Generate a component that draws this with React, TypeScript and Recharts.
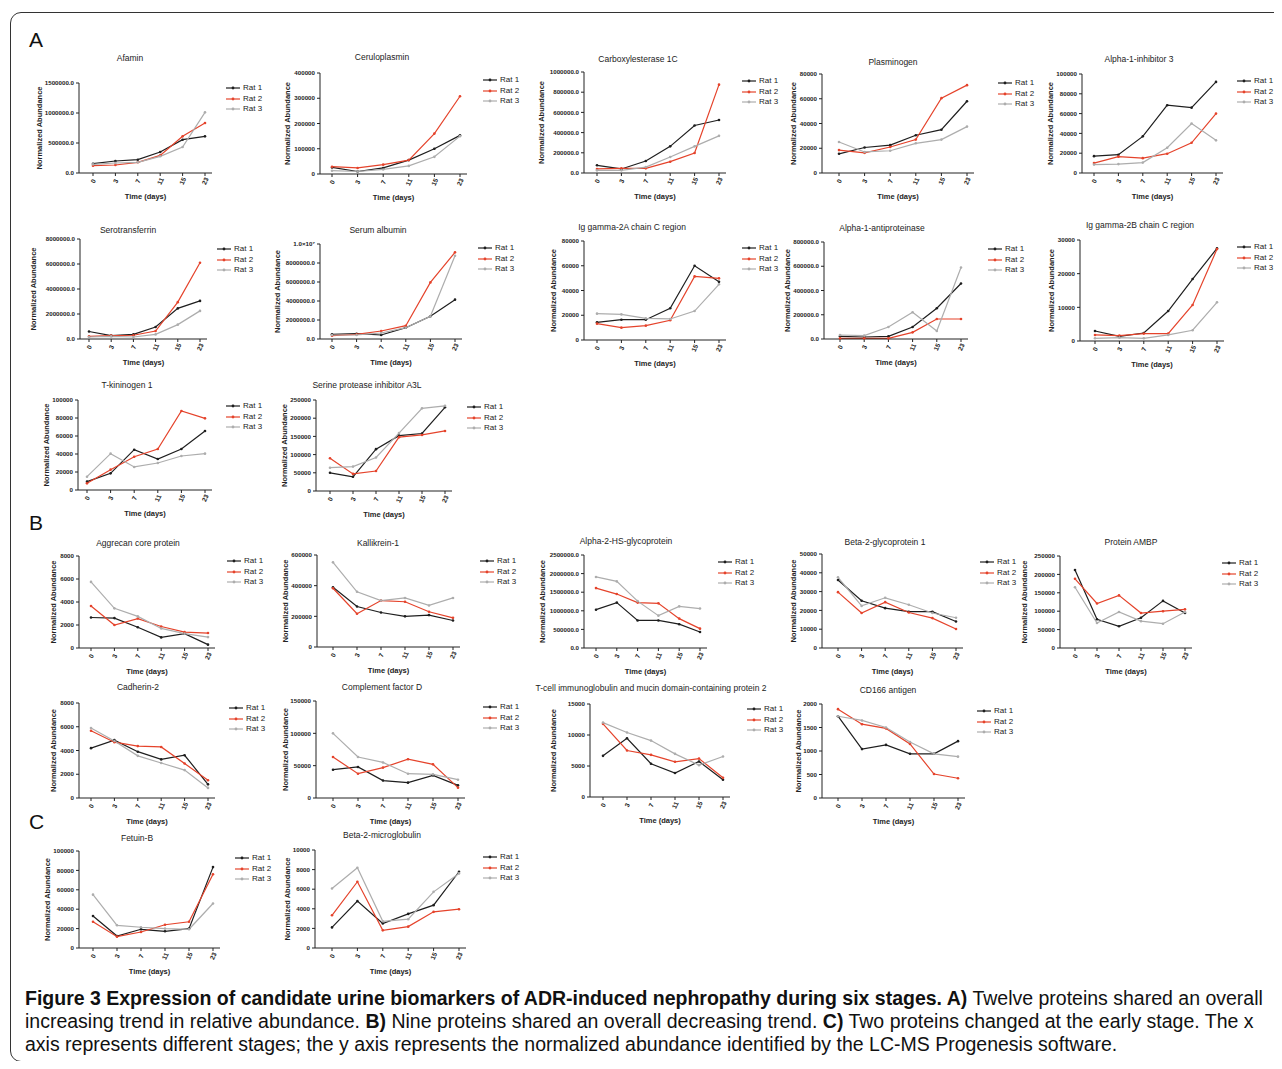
import React from "react";
import { LineChart, Line, XAxis, YAxis, Legend } from "recharts";

const days = ["0", "3", "7", "11", "15", "23"];

// A) increasing
const afamin1 = [155000, 200000, 222000, 350000, 555000, 611000];
const afamin2 = [122000, 133000, 178000, 294000, 611000, 833000];
const afamin3 = [144000, 167000, 178000, 278000, 433000, 1011000];
const afaminTicks = [0, 500000, 1000000, 1500000];

const cerulo1 = [26000, 10000, 24000, 55000, 100000, 153000];
const cerulo2 = [29000, 24000, 37000, 55000, 160000, 308000];
const cerulo3 = [13000, 10000, 18000, 32000, 68000, 150000];
const ceruloTicks = [0, 100000, 200000, 300000, 400000];

const carbox1 = [76000, 40000, 119000, 264000, 470000, 525000];
const carbox2 = [40000, 46000, 46000, 112000, 198000, 875000];
const carbox3 = [26000, 26000, 59000, 158000, 264000, 368000];
const carboxTicks = [0, 200000, 400000, 600000, 800000, 1000000];

const plasmin1 = [15500, 20600, 22500, 30500, 35000, 58000];
const plasmin2 = [18500, 16300, 21000, 27000, 60500, 71000];
const plasmin3 = [25000, 17000, 18000, 24000, 27000, 37500];
const plasminTicks = [0, 20000, 40000, 60000, 80000];

const a1i1 = [17000, 18500, 37000, 68500, 66000, 92000];
const a1i2 = [10000, 16500, 15000, 19500, 30500, 60000];
const a1i3 = [8500, 9000, 10500, 25500, 50000, 33000];
const a1iTicks = [0, 20000, 40000, 60000, 80000, 100000];

const sero1 = [600000, 270000, 370000, 960000, 2450000, 3050000];
const sero2 = [210000, 270000, 300000, 640000, 2950000, 6100000];
const sero3 = [160000, 210000, 160000, 370000, 1150000, 2250000];
const seroTicks = [0, 2000000, 4000000, 6000000, 8000000];

const alb1 = [490000, 560000, 420000, 1190000, 2390000, 4140000];
const alb2 = [350000, 490000, 840000, 1400000, 5960000, 9120000];
const alb3 = [420000, 420000, 630000, 1190000, 2390000, 8770000];
const albTicks = [0, 2000000, 4000000, 6000000, 8000000, 10000000];

const igA1 = [14300, 16400, 16400, 25600, 60000, 47000];
const igA2 = [13200, 10000, 11600, 15900, 51400, 49800];
const igA3 = [21300, 20700, 17500, 17000, 23400, 45000];
const igATicks = [0, 20000, 40000, 60000, 80000];

const a1at1 = [22000, 16500, 22000, 99000, 254000, 458000];
const a1at2 = [5500, 5500, 5500, 55000, 165000, 165000];
const a1at3 = [33000, 27600, 99000, 220000, 66000, 590000];
const a1atTicks = [0, 200000, 400000, 600000, 800000];

const igB1 = [2970, 1390, 2380, 8900, 18400, 27500];
const igB2 = [1800, 1600, 2200, 2200, 10700, 27300];
const igB3 = [800, 1000, 800, 1800, 3200, 11500];
const igBTicks = [0, 10000, 20000, 30000];

const tkin1 = [9300, 18500, 44800, 34400, 45600, 65600];
const tkin2 = [7400, 22600, 37000, 45600, 87800, 79600];
const tkin3 = [14800, 40400, 25600, 30000, 37800, 40400];
const tkinTicks = [0, 20000, 40000, 60000, 80000, 100000];

const serpin1 = [50000, 39000, 115000, 152000, 158000, 230000];
const serpin2 = [90000, 47000, 55000, 148000, 154000, 165000];
const serpin3 = [64000, 67000, 92000, 159000, 227000, 234000];
const serpinTicks = [0, 50000, 100000, 150000, 200000, 250000];

// B) decreasing
const aggr1 = [2650, 2600, 1810, 920, 1240, 290];
const aggr2 = [3650, 2000, 2560, 1870, 1380, 1300];
const aggr3 = [5750, 3450, 2750, 1700, 1250, 950];
const aggrTicks = [0, 2000, 4000, 6000, 8000];

const kall1 = [390000, 264000, 225000, 200000, 208000, 173000];
const kall2 = [383000, 217000, 303000, 295000, 230000, 190000];
const kall3 = [552000, 360000, 303000, 320000, 271000, 320000];
const kallTicks = [0, 200000, 400000, 600000];

const a2hs1 = [1030000, 1220000, 740000, 740000, 640000, 430000];
const a2hs2 = [1610000, 1450000, 1220000, 1200000, 790000, 520000];
const a2hs3 = [1910000, 1790000, 1260000, 870000, 1120000, 1060000];
const a2hsTicks = [0, 500000, 1000000, 1500000, 2000000, 2500000];

const b2gp1 = [36200, 25100, 21200, 19300, 19300, 14100];
const b2gp2 = [29700, 18600, 24400, 18900, 15900, 10100];
const b2gp3 = [37600, 22400, 26700, 23000, 18600, 16100];
const b2gpTicks = [0, 10000, 20000, 30000, 40000, 50000];

const ambp1 = [212000, 78000, 59000, 82000, 128000, 95000];
const ambp2 = [188000, 121000, 143000, 95000, 100000, 105000];
const ambp3 = [165000, 68000, 98000, 73000, 66000, 98000];
const ambpTicks = [0, 50000, 100000, 150000, 200000, 250000];

const cadh1 = [4200, 4870, 3900, 3250, 3600, 1150];
const cadh2 = [5660, 4700, 4370, 4300, 2900, 1500];
const cadh3 = [5900, 4800, 3550, 2950, 2350, 850];
const cadhTicks = [0, 2000, 4000, 6000, 8000];

const cfd1 = [43800, 48000, 27000, 23700, 35000, 19600];
const cfd2 = [63400, 37600, 47000, 60000, 52000, 16000];
const cfd3 = [100000, 63400, 55000, 37600, 36600, 28300];
const cfdTicks = [0, 50000, 100000, 150000];

const tim1 = [6640, 9480, 5360, 3860, 5730, 2790];
const tim2 = [11800, 7500, 6800, 5680, 6200, 3100];
const tim3 = [12000, 10400, 9100, 6960, 5140, 6540];
const timTicks = [0, 5000, 10000, 15000];

const cd1 = [1740, 1040, 1130, 940, 940, 1210];
const cd2 = [1890, 1570, 1480, 1150, 510, 420];
const cd3 = [1740, 1650, 1500, 1190, 940, 880];
const cdTicks = [0, 500, 1000, 1500, 2000];

// C) early change
const fet1 = [33000, 12400, 19300, 17200, 20000, 83400];
const fet2 = [27000, 11700, 16500, 24000, 27000, 76000];
const fet3 = [55000, 23400, 21400, 20000, 19300, 45900];
const fetTicks = [0, 20000, 40000, 60000, 80000, 100000];

const b2m1 = [2100, 4780, 2500, 3480, 4370, 7780];
const b2m2 = [3340, 6760, 1800, 2180, 3690, 3960];
const b2m3 = [6070, 8190, 2730, 2940, 5730, 7610];
const b2mTicks = [0, 2000, 4000, 6000, 8000, 10000];

const INK = "#222";
const FONT = "'Liberation Sans', Arial, sans-serif";
const series = [
  { key: "r1", name: "Rat 1", color: "#1e1e1e" },
  { key: "r2", name: "Rat 2", color: "#e5432b" },
  { key: "r3", name: "Rat 3", color: "#adadad" },
];

// layout: ax = y axis x, top/bottom = plot top/zero line, x0/x5 = first/last point,
// tx/ty = title centre, lx/ly = legend, lab = y-title distance from axis
const panels = [
  { title: "Afamin", r: [afamin1, afamin2, afamin3], ticks: afaminTicks, dec: true, ax: 79, top: 83, bottom: 173, x0: 93, x5: 205, tx: 130, ty: 58, lx: 226, ly: 88, lab: 40 },
  { title: "Ceruloplasmin", r: [cerulo1, cerulo2, cerulo3], ticks: ceruloTicks, ax: 320, top: 73, bottom: 174, x0: 332, x5: 460, tx: 382, ty: 57, lx: 483, ly: 80, lab: 33 },
  { title: "Carboxylesterase 1C", r: [carbox1, carbox2, carbox3], ticks: carboxTicks, dec: true, ax: 584, top: 72, bottom: 173, x0: 597, x5: 719, tx: 638, ty: 59, lx: 742, ly: 81, lab: 43 },
  { title: "Plasminogen", r: [plasmin1, plasmin2, plasmin3], ticks: plasminTicks, ax: 822, top: 74, bottom: 173, x0: 839, x5: 967, tx: 893, ty: 62, lx: 998, ly: 83, lab: 29 },
  { title: "Alpha-1-inhibitor 3", r: [a1i1, a1i2, a1i3], ticks: a1iTicks, ax: 1082, top: 74, bottom: 173, x0: 1094, x5: 1216, tx: 1139, ty: 59, lx: 1237, ly: 81, lab: 32 },
  { title: "Serotransferrin", r: [sero1, sero2, sero3], ticks: seroTicks, dec: true, ax: 80, top: 239, bottom: 339, x0: 89, x5: 200, tx: 128, ty: 230, lx: 217, ly: 249, lab: 47 },
  { title: "Serum albumin", r: [alb1, alb2, alb3], ticks: albTicks, dec: true, ax: 320, top: 244, bottom: 339, x0: 332, x5: 455, tx: 378, ty: 230, lx: 478, ly: 248, lab: 43 },
  { title: "Ig gamma-2A chain C region", r: [igA1, igA2, igA3], ticks: igATicks, ax: 584, top: 241, bottom: 340, x0: 597, x5: 719, tx: 632, ty: 227, lx: 742, ly: 248, lab: 31 },
  { title: "Alpha-1-antiproteinase", r: [a1at1, a1at2, a1at3], ticks: a1atTicks, dec: true, ax: 824, top: 242, bottom: 339, x0: 840, x5: 961, tx: 882, ty: 228, lx: 988, ly: 249, lab: 37 },
  { title: "Ig gamma-2B chain C region", r: [igB1, igB2, igB3], ticks: igBTicks, ax: 1080, top: 240, bottom: 341, x0: 1095, x5: 1217, tx: 1140, ty: 225, lx: 1237, ly: 247, lab: 29 },
  { title: "T-kininogen 1", r: [tkin1, tkin2, tkin3], ticks: tkinTicks, ax: 78, top: 400, bottom: 490, x0: 87, x5: 205, tx: 127, ty: 385, lx: 226, ly: 406, lab: 32 },
  { title: "Serine protease inhibitor A3L", r: [serpin1, serpin2, serpin3], ticks: serpinTicks, ax: 316, top: 400, bottom: 491, x0: 330, x5: 445, tx: 367, ty: 385, lx: 467, ly: 407, lab: 32 },
  { title: "Aggrecan core protein", r: [aggr1, aggr2, aggr3], ticks: aggrTicks, ax: 79, top: 556, bottom: 648, x0: 91, x5: 208, tx: 138, ty: 543, lx: 227, ly: 561, lab: 26 },
  { title: "Kallikrein-1", r: [kall1, kall2, kall3], ticks: kallTicks, ax: 317, top: 555, bottom: 647, x0: 333, x5: 453, tx: 378, ty: 543, lx: 480, ly: 561, lab: 32 },
  { title: "Alpha-2-HS-glycoprotein", r: [a2hs1, a2hs2, a2hs3], ticks: a2hsTicks, dec: true, ax: 584, top: 555, bottom: 648, x0: 596, x5: 700, tx: 626, ty: 541, lx: 718, ly: 562, lab: 42 },
  { title: "Beta-2-glycoprotein 1", r: [b2gp1, b2gp2, b2gp3], ticks: b2gpTicks, ax: 822, top: 554, bottom: 648, x0: 838, x5: 956, tx: 885, ty: 542, lx: 980, ly: 562, lab: 29 },
  { title: "Protein AMBP", r: [ambp1, ambp2, ambp3], ticks: ambpTicks, ax: 1060, top: 556, bottom: 648, x0: 1075, x5: 1185, tx: 1131, ty: 542, lx: 1222, ly: 563, lab: 36 },
  { title: "Cadherin-2", r: [cadh1, cadh2, cadh3], ticks: cadhTicks, ax: 79, top: 703, bottom: 798, x0: 91, x5: 208, tx: 138, ty: 687, lx: 229, ly: 708, lab: 26 },
  { title: "Complement factor D", r: [cfd1, cfd2, cfd3], ticks: cfdTicks, ax: 316, top: 701, bottom: 798, x0: 333, x5: 458, tx: 382, ty: 687, lx: 483, ly: 707, lab: 31 },
  { title: "T-cell immunoglobulin and mucin domain-containing protein 2", r: [tim1, tim2, tim3], ticks: timTicks, ax: 590, top: 704, bottom: 797, x0: 603, x5: 723, tx: 651, ty: 688, lx: 747, ly: 709, lab: 37 },
  { title: "CD166 antigen", r: [cd1, cd2, cd3], ticks: cdTicks, ax: 822, top: 704, bottom: 798, x0: 838, x5: 958, tx: 888, ty: 690, lx: 977, ly: 711, lab: 24 },
  { title: "Fetuin-B", r: [fet1, fet2, fet3], ticks: fetTicks, ax: 79, top: 851, bottom: 948, x0: 93, x5: 213, tx: 137, ty: 838, lx: 235, ly: 858, lab: 32 },
  { title: "Beta-2-microglobulin", r: [b2m1, b2m2, b2m3], ticks: b2mTicks, ax: 315, top: 850, bottom: 948, x0: 332, x5: 459, tx: 382, ty: 835, lx: 483, ly: 857, lab: 28 },
];

const YW = 60;
const MT = 6;
const XH = 34;

function XTick(props: any) {
  const { x, y, payload } = props;
  return (
    <g transform={`translate(${x},${y + 3}) rotate(-65)`}>
      <text x={0} y={0} textAnchor="middle" dominantBaseline="central" fontSize={6.5} fontWeight="bold" fill={INK} fontFamily={FONT}>
        {payload.value}
      </text>
    </g>
  );
}

function RatLegend() {
  return (
    <div style={{ fontFamily: FONT, fontSize: 8, color: INK, lineHeight: "10.5px" }}>
      {series.map((s) => (
        <div key={s.key} style={{ display: "flex", alignItems: "center", height: 10.5, whiteSpace: "nowrap" }}>
          <svg width={14} height={6} style={{ marginRight: 3 }}>
            <line x1={0} y1={3} x2={14} y2={3} stroke={s.color} strokeWidth={1.2} />
            <circle cx={7} cy={3} r={1.4} fill={s.color} />
          </svg>
          {s.name}
        </div>
      ))}
    </div>
  );
}

function Panel({ p }: { p: any }) {
  const data = days.map((d, i) => ({ day: d, r1: p.r[0][i], r2: p.r[1][i], r3: p.r[2][i] }));
  const left = p.ax - YW;
  const top = p.top - MT;
  const plotW = p.x5 + 7 - p.ax;
  const plotH = p.bottom - p.top;
  const width = p.lx + 50 - left;
  const height = MT + plotH + XH;
  const max = p.ticks[p.ticks.length - 1];
  const fmt = (v: number) => {
    if (v === 10000000) return "1.0×10⁷";
    return p.dec ? v.toFixed(1) : String(v);
  };
  return (
    <>
      <div
        style={{
          position: "absolute",
          left: p.tx,
          top: p.ty,
          transform: "translate(-50%, -50%)",
          fontFamily: FONT,
          fontSize: 8.5,
          color: INK,
          whiteSpace: "nowrap",
        }}
      >
        {p.title}
      </div>
      <div style={{ position: "absolute", left, top }}>
        <LineChart width={width} height={height} data={data} margin={{ top: MT, left: 0, bottom: 0, right: width - YW - plotW }}>
          <XAxis
            dataKey="day"
            interval={0}
            padding={{ left: p.x0 - p.ax, right: 7 }}
            height={XH}
            tick={<XTick />}
            tickSize={3}
            tickLine={{ stroke: INK }}
            axisLine={{ stroke: INK, strokeWidth: 1 }}
            label={{
              content: () => (
                <text x={YW + plotW / 2} y={MT + plotH + 23} textAnchor="middle" dominantBaseline="central" fontSize={7.5} fontWeight="bold" fill={INK} fontFamily={FONT}>
                  Time (days)
                </text>
              ),
            }}
          />
          <YAxis
            width={YW}
            domain={[0, max]}
            ticks={p.ticks}
            interval={0}
            tickFormatter={fmt}
            tickSize={3}
            tickMargin={2}
            tick={{ fontSize: 6.2, fontWeight: "bold", fill: INK, fontFamily: FONT }}
            tickLine={{ stroke: INK }}
            axisLine={{ stroke: INK, strokeWidth: 1 }}
            label={{
              content: () => (
                <text
                  x={YW - p.lab}
                  y={MT + plotH / 2}
                  transform={`rotate(-90, ${YW - p.lab}, ${MT + plotH / 2})`}
                  textAnchor="middle"
                  dominantBaseline="central"
                  fontSize={7.5}
                  fontWeight="bold"
                  fill={INK}
                  fontFamily={FONT}
                >
                  Normalized Abundance
                </text>
              ),
            }}
          />
          {series.map((s) => (
            <Line
              key={s.key}
              dataKey={s.key}
              name={s.name}
              stroke={s.color}
              strokeWidth={1.2}
              dot={{ r: 1.3, fill: s.color, stroke: s.color, strokeWidth: 0 }}
              isAnimationActive={false}
            />
          ))}
          <Legend
            layout="horizontal"
            verticalAlign="middle"
            align="center"
            content={() => <RatLegend />}
            wrapperStyle={{ left: p.lx - left, top: p.ly - top - 5, width: 48, height: 32 }}
          />
        </LineChart>
      </div>
    </>
  );
}

const letterStyle: React.CSSProperties = {
  position: "absolute",
  fontFamily: FONT,
  fontSize: 21,
  color: "#111",
  lineHeight: 1,
};

export default function App() {
  return (
    <div style={{ position: "relative", width: 1282, height: 1069, background: "#fff", overflow: "hidden", margin: -8 }}>
      <div
        style={{
          position: "absolute",
          left: 10,
          top: 12,
          width: 1290,
          height: 1050,
          border: "1.5px solid #333",
          borderRadius: 11,
          boxSizing: "border-box",
        }}
      />
      <div style={{ ...letterStyle, left: 29, top: 29 }}>A</div>
      <div style={{ ...letterStyle, left: 29, top: 512 }}>B</div>
      <div style={{ ...letterStyle, left: 29, top: 811 }}>C</div>
      {panels.map((p) => (
        <Panel key={p.title} p={p} />
      ))}
      <div
        style={{
          position: "absolute",
          left: 25,
          top: 987,
          fontFamily: "'Liberation Sans Narrow', 'Liberation Sans', sans-serif",
          fontSize: 19.5,
          lineHeight: "23px",
          color: "#111",
          whiteSpace: "nowrap",
        }}
      >
        <b>Figure 3 Expression of candidate urine biomarkers of ADR-induced nephropathy during six stages. A)</b> Twelve proteins shared an overall
        <br />
        increasing trend in relative abundance. <b>B)</b> Nine proteins shared an overall decreasing trend. <b>C)</b> Two proteins changed at the early stage. The x
        <br />
        axis represents different stages; the y axis represents the normalized abundance identified by the LC-MS Progenesis software.
      </div>
    </div>
  );
}
